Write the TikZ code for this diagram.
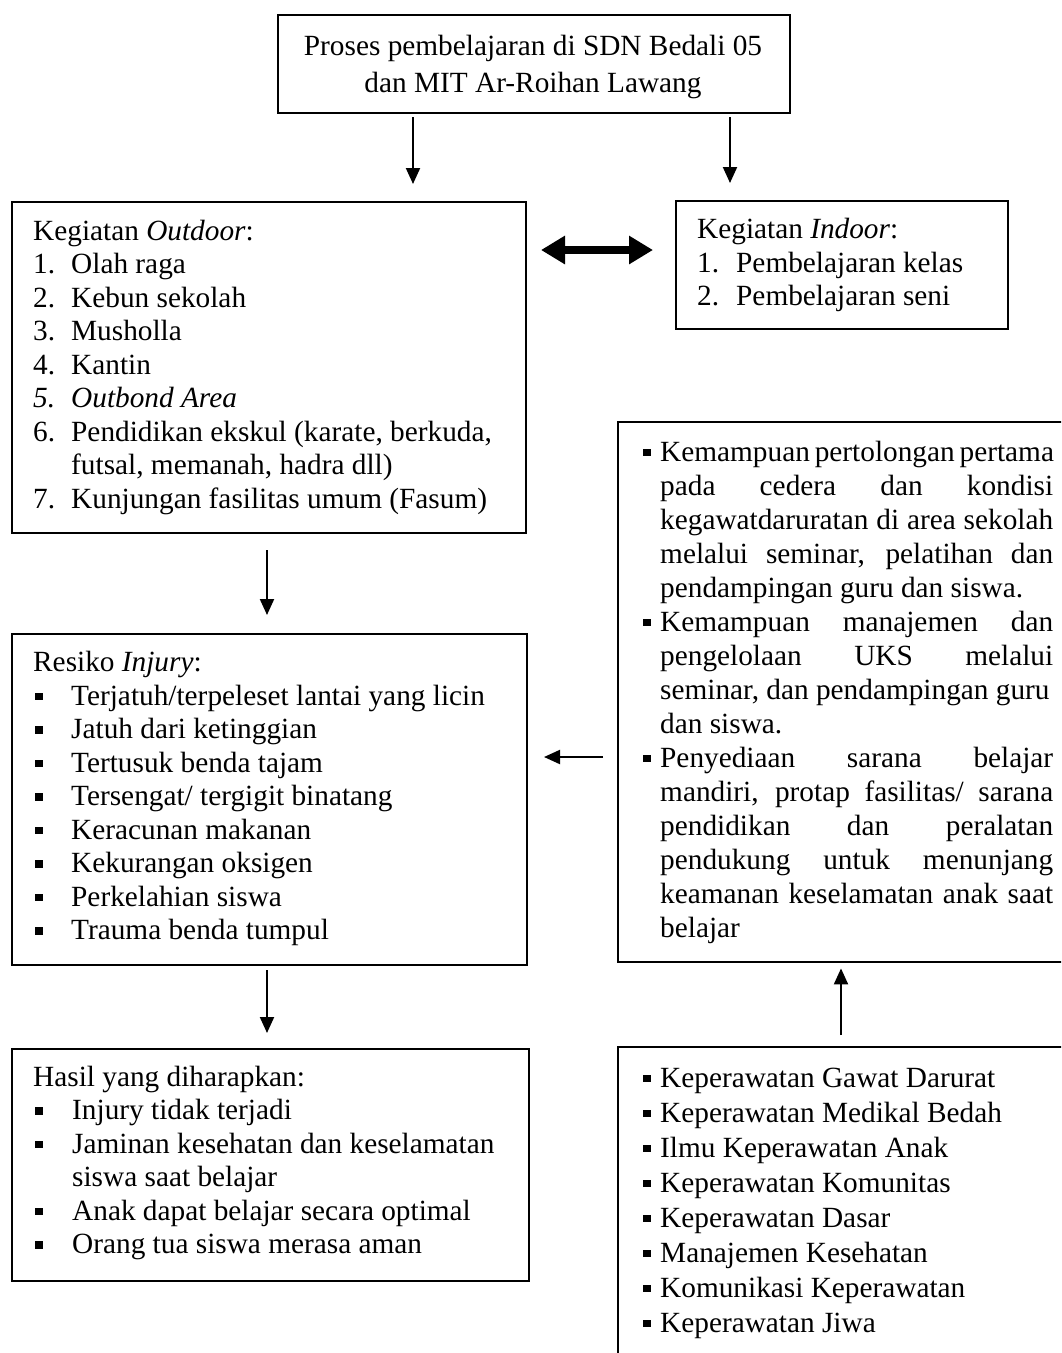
\documentclass[tikz,border=0pt]{standalone}
\usepackage{fontspec}
\setmainfont{Liberation Serif}
\usetikzlibrary{arrows.meta}
\tikzset{
  box/.style={draw, line width=2pt, rectangle, inner sep=0pt, anchor=north west},
  openbox/.style={rectangle, inner sep=0pt, anchor=north west},
  border/.style={line width=2pt},
  txt/.style={anchor=base west, inner sep=0pt, font=\fontsize{29.3pt}{33.5pt}\selectfont},
  ctxt/.style={txt, anchor=base},
  bul/.style={anchor=base west, inner sep=0pt},
  arr/.style={line width=2pt, -{Triangle[length=16pt,width=14pt]}},
  dbl/.style={line width=8pt, {Triangle[length=24pt,width=27pt]}-{Triangle[length=24pt,width=27pt]}},
}
\newcommand\sqb{\rule[5pt]{7.5pt}{7.5pt}}
\newcommand\jline[1]{\makebox[393pt][s]{#1}}
\begin{document}
\begin{tikzpicture}[x=1pt,y=-1pt]
\useasboundingbox (0,0) rectangle (1061,1353);
\clip (0,0) rectangle (1061,1353);
\fill[white] (0,0) rectangle (1061,1353);

% boxes
\node[box, minimum width=512pt, minimum height=98pt] (top) at (277,14) {};
\node[box, minimum width=514pt, minimum height=331pt] (outd) at (11,201) {};
\node[box, minimum width=332pt, minimum height=128pt] (ind) at (675,200) {};
\node[box, minimum width=515pt, minimum height=331pt] (inj) at (11,633) {};
\node[box, minimum width=517pt, minimum height=232pt] (has) at (11,1048) {};
\node[openbox, minimum width=520pt, minimum height=540pt] (rbox) at (618,422) {};
\node[openbox, minimum width=520pt, minimum height=360pt] (rbot) at (618,1047) {};
\draw[border] (rbox.north east) -- (rbox.north west) -- (rbox.south west) -- (rbox.south east);
\draw[border] (rbot.north east) -- (rbot.north west) -- (rbot.south west);

% top box text
\node[ctxt] (t1) at (533,55) {Proses pembelajaran di SDN Bedali 05};
\node[ctxt] (t2) at (533,92) {dan MIT Ar-Roihan Lawang};

% outdoor
\node[txt] (o0) at (33,240) {Kegiatan \textit{Outdoor}:};
\node[txt] (o1n) at (33,273.5) {1.};
\node[txt] (o1) at (71,273.5) {Olah raga};
\node[txt] (o2n) at (33,307) {2.};
\node[txt] (o2) at (71,307) {Kebun sekolah};
\node[txt] (o3n) at (33,340.5) {3.};
\node[txt] (o3) at (71,340.5) {Musholla};
\node[txt] (o4n) at (33,374) {4.};
\node[txt] (o4) at (71,374) {Kantin};
\node[txt] (o5n) at (33,407.5) {\textit{5.}};
\node[txt] (o5) at (71,407.5) {\textit{Outbond Area}};
\node[txt] (o6n) at (33,441) {6.};
\node[txt] (o6) at (71,441) {Pendidikan ekskul (karate, berkuda,};
\node[txt] (o6b) at (71,474.5) {futsal, memanah, hadra dll)};
\node[txt] (o7n) at (33,508) {7.};
\node[txt] (o7) at (71,508) {Kunjungan fasilitas umum (Fasum)};

% indoor
\node[txt] (i0) at (697,238.5) {Kegiatan \textit{Indoor}:};
\node[txt] (i1n) at (697,272) {1.};
\node[txt] (i1) at (736,272) {Pembelajaran kelas};
\node[txt] (i2n) at (697,305.5) {2.};
\node[txt] (i2) at (736,305.5) {Pembelajaran seni};

% injury
\node[txt] (r0) at (33,671.5) {Resiko \textit{Injury}:};
\foreach \k/\t in {1/{Terjatuh/terpeleset lantai yang licin},2/{Jatuh dari ketinggian},3/{Tertusuk benda tajam},4/{Tersengat/ tergigit binatang},5/{Keracunan makanan},6/{Kekurangan oksigen},7/{Perkelahian siswa},8/{Trauma benda tumpul}}{
  \node[bul] (rb\k) at (35,671.5+33.5*\k) {\sqb};
  \node[txt] (r\k) at (71,671.5+33.5*\k) {\t};
}

% hasil
\node[txt] (h0) at (33,1086) {Hasil yang diharapkan:};
\node[bul] (hb1) at (35,1119.5) {\sqb};
\node[txt] (h1) at (72,1119.5) {Injury tidak terjadi};
\node[bul] (hb2) at (35,1153) {\sqb};
\node[txt] (h2) at (72,1153) {Jaminan kesehatan dan keselamatan};
\node[txt] (h2b) at (72,1186.5) {siswa saat belajar};
\node[bul] (hb3) at (35,1220) {\sqb};
\node[txt] (h3) at (72,1220) {Anak dapat belajar secara optimal};
\node[bul] (hb4) at (35,1253.5) {\sqb};
\node[txt] (h4) at (72,1253.5) {Orang tua siswa merasa aman};

% right box
\node[bul] (kb1) at (643,461) {\sqb};
\node[txt] (k0) at (660,461) {\jline{Kemampuan pertolongan pertama}};
\node[txt] (k1) at (660,495) {\jline{pada cedera dan kondisi}};
\node[txt] (k2) at (660,529) {\jline{kegawatdaruratan di area sekolah}};
\node[txt] (k3) at (660,563) {\jline{melalui seminar, pelatihan dan}};
\node[txt] (k4) at (660,597) {pendampingan guru dan siswa.};
\node[bul] (kb2) at (643,631) {\sqb};
\node[txt] (k5) at (660,631) {\jline{Kemampuan manajemen dan}};
\node[txt] (k6) at (660,665) {\jline{pengelolaan UKS melalui}};
\node[txt] (k7) at (660,699) {seminar, dan pendampingan guru};
\node[txt] (k8) at (660,733) {dan siswa.};
\node[bul] (kb3) at (643,767) {\sqb};
\node[txt] (k9) at (660,767) {\jline{Penyediaan sarana belajar}};
\node[txt] (k10) at (660,801) {\jline{mandiri, protap fasilitas/ sarana}};
\node[txt] (k11) at (660,835) {\jline{pendidikan dan peralatan}};
\node[txt] (k12) at (660,869) {\jline{pendukung untuk menunjang}};
\node[txt] (k13) at (660,903) {\jline{keamanan keselamatan anak saat}};
\node[txt] (k14) at (660,937) {belajar};

% bottom right box
\foreach \k/\t in {0/{Keperawatan Gawat Darurat},1/{Keperawatan Medikal Bedah},2/{Ilmu Keperawatan Anak},3/{Keperawatan Komunitas},4/{Keperawatan Dasar},5/{Manajemen Kesehatan},6/{Komunikasi Keperawatan},7/{Keperawatan Jiwa}}{
  \node[bul] (pb\k) at (643,1087+35*\k) {\sqb};
  \node[txt] (p\k) at (660,1087+35*\k) {\t};
}

% connectors
\coordinate (ax1) at (413,0);
\coordinate (ax2) at (730,0);
\coordinate (ax3) at (267,0);
\coordinate (ax4) at (841,0);
\coordinate (ay1) at (0,250);
\coordinate (ay2) at (0,757);
\draw[arr, shorten <=3pt, shorten >=17pt] (top.south -| ax1) -- (outd.north -| ax1);
\draw[arr, shorten <=3pt, shorten >=17pt] (top.south -| ax2) -- (ind.north -| ax2);
\draw[dbl, shorten <=14pt, shorten >=22pt] (outd.east |- ay1) -- (ind.west |- ay1);
\draw[arr, shorten <=16pt, shorten >=18pt] (outd.south -| ax3) -- (inj.north -| ax3);
\draw[arr, shorten <=4pt, shorten >=15pt] (inj.south -| ax3) -- (has.north -| ax3);
\draw[arr, shorten <=15pt, shorten >=16pt] (rbox.west |- ay2) -- (inj.east |- ay2);
\draw[arr, shorten <=12pt, shorten >=6pt] (rbot.north -| ax4) -- (rbox.south -| ax4);
\end{tikzpicture}
\end{document}
